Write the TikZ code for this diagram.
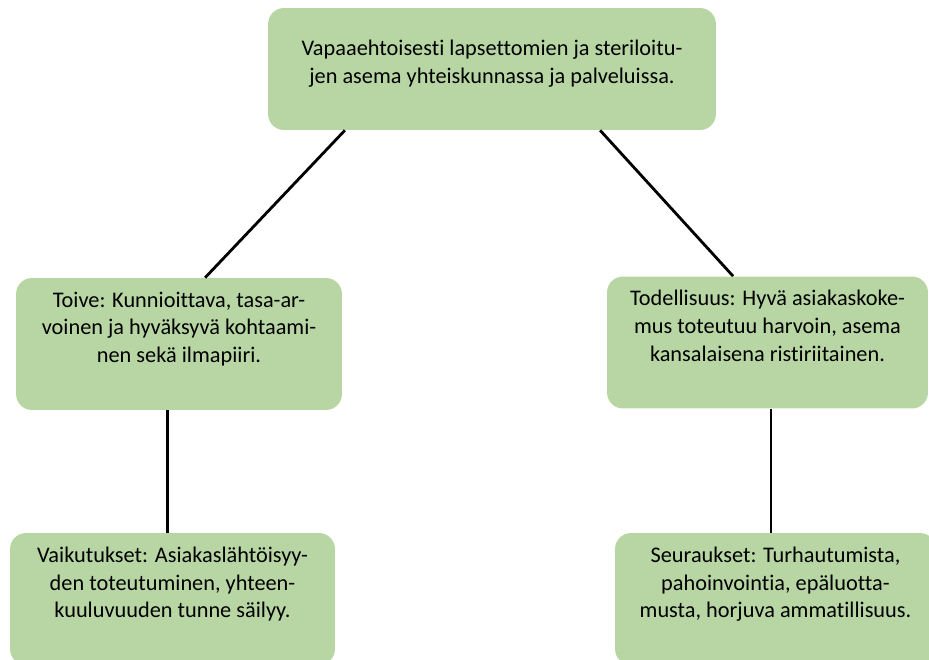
\documentclass[tikz,border=0pt]{standalone}
\usepackage{fontspec}
\setmainfont{Carlito}[Ligatures=NoCommon]
\usetikzlibrary{calc}
\definecolor{boxgreen}{RGB}{184,214,164}
\tikzset{
    topic/.style = {
        fill = boxgreen,
        rounded corners = 0.32cm,
        align = center,
        inner sep = 0pt,
        font = \fontsize{12.7}{15.8}\selectfont,
        },
    sub topic/.style = {
        topic,
        minimum width = 6.5cm,
        minimum height = 2.64cm,
        text depth = 19pt,
        },
    branch/.style = {
        line width = 1.6pt,
        },
}

\begin{document}
\begin{tikzpicture}[x=0.02cm, y=-0.02cm]
    \useasboundingbox (0,0) rectangle (929,659);
    \clip (0,0) rectangle (929,659);

    \node [topic, minimum width=8.96cm, minimum height=2.44cm, text depth=8.5pt] (top) at (492,69)
        {Vapaaehtoisesti lapsettomien ja steriloitu-\\jen asema yhteiskunnassa ja palveluissa.};

    \node [sub topic, minimum width=6.52cm] (toive) at (179,344)
        {Toive: Kunnioittava, tasa-ar-\\voinen ja hyväksyvä kohtaami-\\nen sekä ilmapiiri.};
    \node [sub topic, minimum width=6.42cm] (todel) at (767.5,342.5)
        {Todellisuus: Hyvä asiakaskoke-\\mus toteutuu harvoin, asema\\kansalaisena ristiriitainen.};

    \node [sub topic, minimum width=6.5cm] (vaik) at (172.5,599)
        {Vaikutukset: Asiakaslähtöisyy-\\den toteutuminen, yhteen-\\kuuluvuuden tunne säilyy.};
    \node [sub topic, minimum width=6.42cm] (seur) at (775.5,599)
        {Seuraukset: Turhautumista,\\pahoinvointia, epäluotta-\\musta, horjuva ammatillisuus.};

    % connectors
    \coordinate (toive top) at ($(toive.north west)!.58!(toive.north east)$);
    \coordinate (todel top) at ($(todel.north west)!.393!(todel.north east)$);
    \coordinate (toive low) at ($(toive.south west)!.466!(toive.south east)$);
    \coordinate (todel low) at ($(todel.south west)!.511!(todel.south east)$);
    \draw [branch] ($(top.south west)!.172!(top.south east)$) -- (toive top);
    \draw [branch] ($(top.south west)!.741!(top.south east)$) -- (todel top);
    \draw [branch] (toive low) -- (toive low |- vaik.north);
    \draw [branch] (todel low) -- (todel low |- seur.north);
\end{tikzpicture}
\end{document}
